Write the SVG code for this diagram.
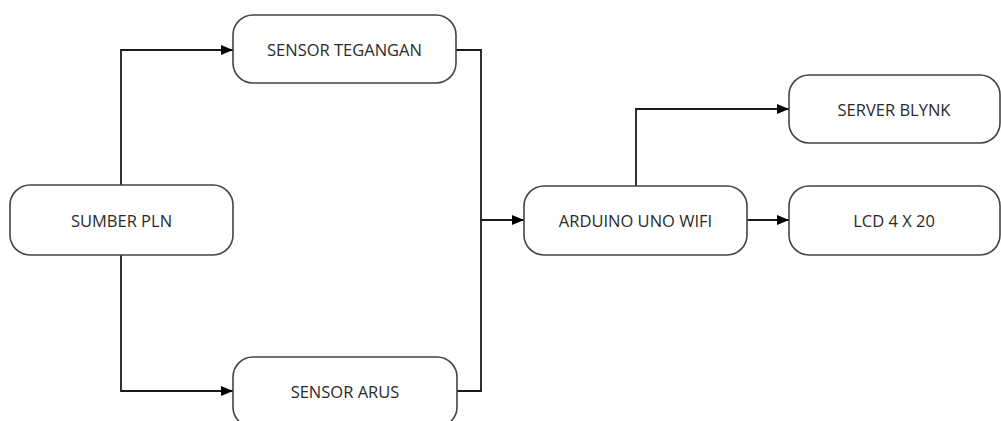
<svg xmlns="http://www.w3.org/2000/svg" width="1001" height="421" viewBox="0 0 1001 421">
<style>
.box{fill:#fff;stroke:#444;stroke-width:1.6}
.lbl{font-family:"Open Sans","Noto Sans",sans-serif;font-size:16.5px;fill:#2a2a2a;text-anchor:middle;dominant-baseline:central}
.ln{fill:none;stroke:#1a1a1a;stroke-width:1.8}
</style>
<defs>
<marker id="ah" markerWidth="12" markerHeight="10" refX="12" refY="5" orient="auto" markerUnits="userSpaceOnUse">
<path d="M0,0 L12,5 L0,10 Z" fill="#000"/>
</marker>
</defs>
<rect width="1001" height="421" fill="#fff"/>
<g id="connectors">
<path class="ln" d="M121,185 V50 H233" marker-end="url(#ah)"/>
<path class="ln" d="M121,255 V391 H233" marker-end="url(#ah)"/>
<path class="ln" d="M456,50 H481 V391 H457"/>
<path class="ln" d="M481,220 H524" marker-end="url(#ah)"/>
<path class="ln" d="M636,186 V109 H789" marker-end="url(#ah)"/>
<path class="ln" d="M747,220 H789" marker-end="url(#ah)"/>
</g>
<g id="sensor-tegangan">
<rect class="box" x="233" y="15" width="223" height="68" rx="20"/>
<text class="lbl" x="344.5" y="49">SENSOR TEGANGAN</text>
</g>
<g id="sumber-pln">
<rect class="box" x="10" y="185" width="223" height="70" rx="20"/>
<text class="lbl" x="121.5" y="220">SUMBER PLN</text>
</g>
<g id="sensor-arus">
<rect class="box" x="233" y="357" width="224" height="70" rx="20"/>
<text class="lbl" x="345" y="391">SENSOR ARUS</text>
</g>
<g id="arduino">
<rect class="box" x="524" y="186" width="223" height="69" rx="20"/>
<text class="lbl" x="635.5" y="220">ARDUINO UNO WIFI</text>
</g>
<g id="server-blynk">
<rect class="box" x="789" y="75" width="211" height="68" rx="20"/>
<text class="lbl" x="894" y="109">SERVER BLYNK</text>
</g>
<g id="lcd">
<rect class="box" x="789" y="186" width="211" height="69" rx="20"/>
<text class="lbl" x="894" y="220">LCD 4 X 20</text>
</g>
</svg>
